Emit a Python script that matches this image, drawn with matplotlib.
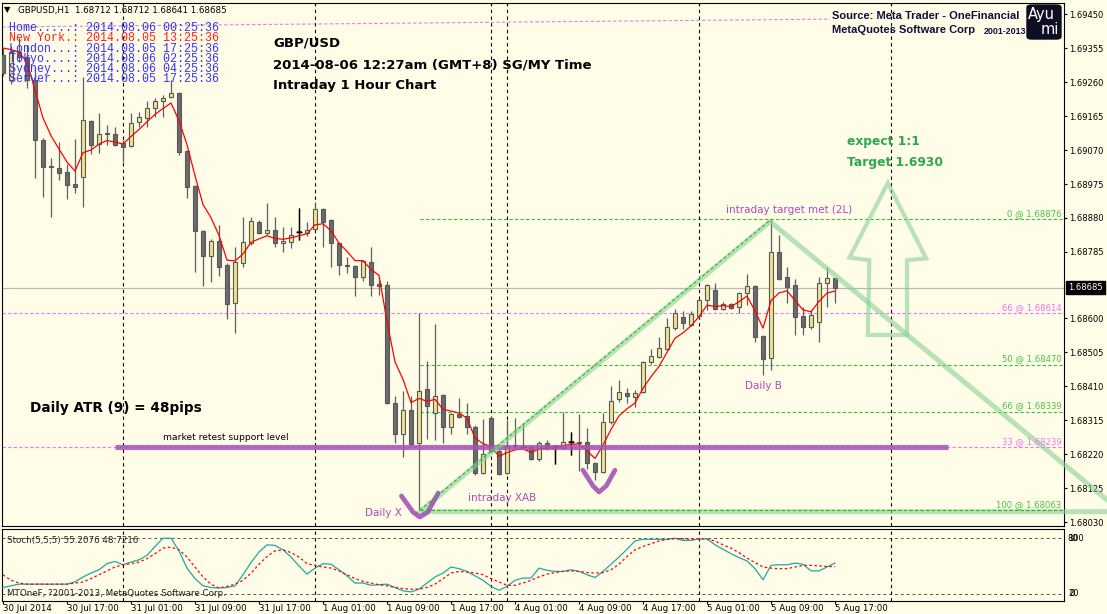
import numpy as np
import matplotlib
matplotlib.use("Agg")
import matplotlib.pyplot as plt
from matplotlib.patches import FancyBboxPatch, Polygon
import matplotlib.transforms as mtransforms

# ---------------- data ----------------
bar_open = [1.69335, 1.69266, 1.69344, 1.69330, 1.69266, 1.69098, 1.69025, 1.69020, 1.69008, 1.68975,
            1.68994, 1.69151, 1.69087, 1.69117, 1.69115, 1.69089, 1.69081, 1.69148, 1.69159, 1.69187,
            1.69207, 1.69218, 1.69229, 1.69067, 1.68969, 1.68844, 1.68774, 1.68816, 1.68748, 1.68642,
            1.68754, 1.68810, 1.68869, 1.68838, 1.68846, 1.68810, 1.68813, 1.68841, 1.68838, 1.68849,
            1.68905, 1.68874, 1.68810, 1.68748, 1.68746, 1.68715, 1.68757, 1.68695, 1.68693, 1.68363,
            1.68276, 1.68343, 1.68251, 1.68402, 1.68335, 1.68385, 1.68296, 1.68332, 1.68326, 1.68296,
            1.68167, 1.68321, 1.68229, 1.68167, 1.68243, 1.68243, 1.68240, 1.68206, 1.68251, 1.68240,
            1.68237, 1.68254, 1.68254, 1.68254, 1.68195, 1.68170, 1.68310, 1.68374, 1.68391, 1.68380,
            1.68394, 1.68477, 1.68491, 1.68514, 1.68572, 1.68603, 1.68581, 1.68606, 1.68651, 1.68679,
            1.68626, 1.68639, 1.68631, 1.68670, 1.68690, 1.68550, 1.68489, 1.68785, 1.68715, 1.68693,
            1.68606, 1.68575, 1.68589, 1.68698, 1.68712]
bar_high = [1.69355, 1.69361, 1.69383, 1.69363, 1.69299, 1.69103, 1.69047, 1.69092, 1.69031, 1.69101,
            1.69274, 1.69154, 1.69173, 1.69140, 1.69134, 1.69098, 1.69173, 1.69176, 1.69207, 1.69215,
            1.69224, 1.69266, 1.69232, 1.69070, 1.68972, 1.68846, 1.68821, 1.68860, 1.68754, 1.68799,
            1.68883, 1.68883, 1.68874, 1.68922, 1.68883, 1.68855, 1.68855, 1.68908, 1.68869, 1.68925,
            1.68908, 1.68877, 1.68813, 1.68771, 1.68748, 1.68762, 1.68799, 1.68707, 1.68704, 1.68382,
            1.68396, 1.68382, 1.68614, 1.68480, 1.68584, 1.68388, 1.68335, 1.68377, 1.68363, 1.68301,
            1.68318, 1.68324, 1.68243, 1.68315, 1.68321, 1.68307, 1.68243, 1.68257, 1.68259, 1.68245,
            1.68338, 1.68282, 1.68332, 1.68293, 1.68198, 1.68335, 1.68410, 1.68427, 1.68405, 1.68399,
            1.68480, 1.68514, 1.68547, 1.68600, 1.68626, 1.68620, 1.68620, 1.68653, 1.68695, 1.68698,
            1.68645, 1.68642, 1.68673, 1.68723, 1.68693, 1.68553, 1.68876, 1.68832, 1.68743, 1.68709,
            1.68631, 1.68623, 1.68715, 1.68743, 1.68712]
bar_low = [1.69277, 1.69254, 1.69316, 1.69243, 1.68992, 1.68938, 1.68883, 1.68986, 1.68933, 1.68950,
           1.68911, 1.69059, 1.69061, 1.69084, 1.69081, 1.69036, 1.69078, 1.69134, 1.69134, 1.69162,
           1.69162, 1.69215, 1.69056, 1.68936, 1.68729, 1.68690, 1.68701, 1.68718, 1.68598, 1.68558,
           1.68743, 1.68804, 1.68835, 1.68832, 1.68799, 1.68785, 1.68796, 1.68818, 1.68830, 1.68846,
           1.68799, 1.68743, 1.68721, 1.68726, 1.68662, 1.68704, 1.68662, 1.68665, 1.68360, 1.68251,
           1.68212, 1.68240, 1.68063, 1.68262, 1.68259, 1.68251, 1.68276, 1.68321, 1.68276, 1.68162,
           1.68164, 1.68226, 1.68162, 1.68164, 1.68237, 1.68234, 1.68203, 1.68201, 1.68231, 1.68192,
           1.68234, 1.68217, 1.68173, 1.68178, 1.68148, 1.68167, 1.68304, 1.68366, 1.68363, 1.68352,
           1.68391, 1.68472, 1.68489, 1.68511, 1.68567, 1.68570, 1.68578, 1.68600, 1.68623, 1.68623,
           1.68623, 1.68626, 1.68614, 1.68637, 1.68533, 1.68441, 1.68455, 1.68707, 1.68642, 1.68553,
           1.68553, 1.68570, 1.68533, 1.68631, 1.68641]
bar_close = [1.69285, 1.69344, 1.69330, 1.69266, 1.69098, 1.69022, 1.69022, 1.69006, 1.68972, 1.68966,
             1.69154, 1.69084, 1.69115, 1.69115, 1.69084, 1.69078, 1.69145, 1.69162, 1.69187, 1.69207,
             1.69215, 1.69229, 1.69064, 1.68966, 1.68844, 1.68774, 1.68816, 1.68743, 1.68639, 1.68757,
             1.68813, 1.68871, 1.68838, 1.68846, 1.68810, 1.68816, 1.68832, 1.68841, 1.68846, 1.68905,
             1.68869, 1.68810, 1.68748, 1.68746, 1.68715, 1.68760, 1.68693, 1.68690, 1.68363, 1.68276,
             1.68343, 1.68248, 1.68396, 1.68354, 1.68382, 1.68296, 1.68332, 1.68324, 1.68296, 1.68167,
             1.68220, 1.68229, 1.68164, 1.68243, 1.68245, 1.68240, 1.68206, 1.68251, 1.68240, 1.68240,
             1.68254, 1.68254, 1.68251, 1.68195, 1.68170, 1.68310, 1.68368, 1.68394, 1.68382, 1.68391,
             1.68477, 1.68494, 1.68516, 1.68575, 1.68614, 1.68586, 1.68612, 1.68651, 1.68693, 1.68626,
             1.68639, 1.68628, 1.68670, 1.68690, 1.68547, 1.68486, 1.68785, 1.68709, 1.68687, 1.68603,
             1.68575, 1.68609, 1.68698, 1.68712, 1.68685]

stoch_main = [11, 14, 17, 17, 17, 17, 17, 17, 17, 21,
              30, 37, 43, 54, 58, 52, 57, 61, 69, 85,
              100, 100, 77, 46, 27, 14, 11, 10, 11, 14,
              34, 56, 75, 88, 87, 79, 66, 50, 35, 46,
              54, 53, 43, 32, 19, 19, 15, 16, 17, 11,
              5, 3, 8, 19, 30, 37, 48, 45, 40, 32,
              24, 13, 6, 13, 24, 28, 28, 46, 42, 40,
              40, 43, 40, 34, 29, 40, 53, 66, 80, 95,
              98, 98, 98, 98, 100, 96, 96, 99, 99, 88,
              80, 72, 65, 59, 45, 25, 51, 52, 52, 55,
              53, 41, 41, 48, 55.2]
stoch_signal = [34, 24, 19, 17, 17, 17, 17, 17, 17, 19,
                21, 27, 34, 41, 48, 52, 54, 57, 63, 72,
                82, 84, 79, 66, 48, 30, 17, 10, 13, 17,
                24, 37, 53, 67, 77, 79, 74, 66, 54, 51,
                48, 46, 41, 34, 27, 22, 19, 16, 14, 11,
                9, 8, 8, 11, 17, 27, 37, 40, 39, 37,
                34, 27, 21, 15, 15, 19, 24, 30, 35, 38,
                40, 41, 40, 38, 37, 38, 43, 53, 67, 79,
                85, 90, 95, 98, 99, 99, 98, 99, 98, 95,
                88, 82, 74, 64, 56, 48, 46, 45, 45, 48,
                51, 51, 50, 49, 48.7]

ma_start = 1.69355          # value of the red moving average at the first visible bar
ma_alpha = 0.36             # EMA smoothing of the red moving average

time_labels = ["30 Jul 2014", "30 Jul 17:00", "31 Jul 01:00", "31 Jul 09:00", "31 Jul 17:00",
               "1 Aug 01:00", "1 Aug 09:00", "1 Aug 17:00", "4 Aug 01:00", "4 Aug 09:00",
               "4 Aug 17:00", "5 Aug 01:00", "5 Aug 09:00", "5 Aug 17:00"]
price_ticks = [1.69450, 1.69355, 1.69260, 1.69165, 1.69070, 1.68975, 1.68880, 1.68785,
               1.68600, 1.68505, 1.68410, 1.68315, 1.68220, 1.68125, 1.68030]
separator_bars = [15, 39, 61, 63, 87, 111]
current_price = 1.68685

fib_green_prices = [1.68876, 1.68470, 1.68339, 1.68063]
fib_green_labels = ["0 @ 1.68876", "50 @ 1.68470", "66 @ 1.68339", "100 @ 1.68063"]
fib_pink_prices = [1.68614, 1.68239]
fib_pink_labels = ["66 @ 1.68614", "33 @ 1.68239"]
support_level = 1.68240

clock_lines = ["Home.....: 2014.08.06 00:25:36", "New York.: 2014.08.05 13:25:36",
               "London...: 2014.08.05 17:25:36", "Tokyo....: 2014.08.06 02:25:36",
               "Sydney...: 2014.08.06 04:25:36", "Server...: 2014.08.05 17:25:36"]

# chart objects (bar index, price)
triangle_bars = [138.0, 52.1, 95.9, 138.0]
triangle_prices = [1.68059, 1.68059, 1.68870, 1.68092]
arrow_bars = [110.6, 105.8, 108.3, 108.1, 113.0, 113.0, 115.4]
arrow_prices = [1.68978, 1.68769, 1.68762, 1.68553, 1.68553, 1.68762, 1.68767]
v1_bars = [49.8, 51.25, 52.1, 53.1, 54.4]
v1_prices = [1.68103, 1.68058, 1.68044, 1.68058, 1.68111]
v2_bars = [72.5, 73.75, 74.5, 75.4, 76.5]
v2_prices = [1.68175, 1.68131, 1.68114, 1.68131, 1.68175]

# ---------------- figure ----------------
W, H = 1107, 614
BG = '#fffce8'
fig = plt.figure(figsize=(W / 100, H / 100), dpi=100, facecolor=BG)


def fx(x):
    return x / W


def fy(y):
    return 1 - y / H


ax = fig.add_axes([fx(2), fy(526), fx(1064) - fx(2), fy(3) - fy(526)], facecolor=BG)
axs = fig.add_axes([fx(2), fy(601), fx(1064) - fx(2), fy(529) - fy(601)], facecolor=BG)

o = np.array(bar_open)
hi = np.array(bar_high)
lo = np.array(bar_low)
c = np.array(bar_close)
n = len(c)
idx = np.arange(n)
bull = c >= o

XL = (-0.125, 132.625)
ax.set_xlim(*XL)
ax.set_ylim(1.68019, 1.69481)

# fib lines
ax.hlines(fib_green_prices, 52.1, XL[1], colors='#33c233', linestyles=(0, (3, 2)), lw=0.8, zorder=2)
ax.hlines(fib_pink_prices, XL[0], XL[1], colors='#ee77ee', linestyles=(0, (3, 2)), lw=0.8, zorder=2)
for p, t in zip(fib_green_prices, fib_green_labels):
    ax.text(132.3, p + 0.00003, t, color='#44c444', fontsize=6.1, ha='right', va='bottom', zorder=7)
for p, t in zip(fib_pink_prices, fib_pink_labels):
    ax.text(132.3, p + 0.00003, t, color='#ee77ee', fontsize=6.1, ha='right', va='bottom', zorder=7)

# current price line
ax.axhline(current_price, color='#b8b8b8', lw=0.9, zorder=2)

# separators
for sb in separator_bars:
    ax.axvline(sb, color='black', lw=0.8, ls=(0, (3, 3)), zorder=2.5)
    axs.axvline(sb, color='black', lw=0.8, ls=(0, (3, 3)), zorder=2.5)

# candles
ax.vlines(idx, lo, hi, color='#5e5e5e', lw=0.9, zorder=3)
heights = np.maximum(np.abs(c - o), 0.000015)
body_colors = np.where(bull, '#efe38c', '#6a6a6a')
ax.bar(idx, heights, bottom=np.minimum(o, c), width=0.62, color=body_colors,
       edgecolor='#585858', linewidth=0.8, zorder=4)
doji = np.abs(c - o) < 0.000005
ax.hlines(c[doji], idx[doji] - 0.35, idx[doji] + 0.35, color='black', lw=1.0, zorder=4.5)
ax.vlines(idx[doji], lo[doji], hi[doji], color='black', lw=1.0, zorder=4.5)

# red moving average
ma = np.empty(n)
ma[0] = ma_start
for i in range(1, n):
    ma[i] = ma[i - 1] + ma_alpha * (c[i] - ma[i - 1])
ax.plot(idx, ma, color='red', lw=0.9, zorder=5)

# support level
ax.plot([14, 118.1], [support_level, support_level], color='#a653b3', lw=3.7, alpha=0.85,
        solid_capstyle='butt', zorder=6)

# green triangle, fib diagonal and arrow
GREEN = '#86d293'
ax.plot(triangle_bars, triangle_prices, color=GREEN, lw=3.6, alpha=0.6, zorder=6,
        clip_on=False, solid_joinstyle='miter')
ax.plot([52.1, 96], [1.68063, 1.68876], color='#2fb52f', lw=0.8, ls=(0, (3, 2)), zorder=6.5)
ax.plot([52.1, 132.6], [1.68063, 1.68063], color='#2fb52f', lw=0.8, ls=(0, (3, 2)), zorder=6.5)
arrow = Polygon(list(zip(arrow_bars, arrow_prices)), closed=True, fill=False,
                edgecolor=GREEN, lw=3.0, alpha=0.6, zorder=6, joinstyle='miter')
ax.add_patch(arrow)

# purple V marks
for vb, vp in ((v1_bars, v1_prices), (v2_bars, v2_prices)):
    ax.plot(vb, vp, color='#a653b3', lw=3.4, alpha=0.9, solid_capstyle='round',
            solid_joinstyle='round', zorder=6, clip_on=False)

# axes styling
ax.set_xticks([])
ax.yaxis.tick_right()
ax.set_yticks(price_ticks)
ax.set_yticklabels(['%.5f' % p for p in price_ticks])
ax.tick_params(axis='y', length=2.5, width=0.8, pad=1.5, labelsize=6, colors='black')
for sp in ax.spines.values():
    sp.set_color('black')
    sp.set_linewidth(0.8)

# current price label box
trans = mtransforms.blended_transform_factory(ax.transAxes, ax.transData)
ax.text(1.0 + 4 / 1062, current_price, '%.5f' % current_price, transform=trans, color='white',
        fontsize=6, ha='left', va='center', clip_on=False, zorder=10,
        bbox=dict(facecolor='black', edgecolor='black', boxstyle='square,pad=0.25'))

# stochastic
axs.set_xlim(*XL)
axs.set_ylim(-13.4, 116.6)
axs.axhline(100, color='#555555', lw=0.7, ls=(0, (3, 3)))
axs.axhline(0, color='#555555', lw=0.7, ls=(0, (3, 3)))
axs.plot(idx, stoch_main, color='#1fa9a3', lw=0.9, zorder=3)
axs.plot(idx, stoch_signal, color='red', lw=0.9, ls=(0, (2, 2)), zorder=3)
axs.set_yticks([])
axs.set_xticks(idx[::8])
axs.set_xticklabels(time_labels)
axs.tick_params(axis='x', length=2, width=0.8, pad=0.3, labelsize=6.2, colors='black')
for lbl in axs.get_xticklabels():
    lbl.set_horizontalalignment('left')
for sp in axs.spines.values():
    sp.set_color('black')
    sp.set_linewidth(0.8)
trs = mtransforms.blended_transform_factory(axs.transAxes, axs.transData)
axs.text(1.0 + 4 / 1062, 100, "100", transform=trs, fontsize=6, ha='left', va='center', clip_on=False)
axs.text(1.0 + 3 / 1062, 100, "80", transform=trs, fontsize=6, ha='left', va='center', clip_on=False)
axs.text(1.0 + 4 / 1062, 0, "20", transform=trs, fontsize=6, ha='left', va='center', clip_on=False)
axs.text(1.0 + 5 / 1062, 0, "0", transform=trs, fontsize=6, ha='left', va='center', clip_on=False)
fig.text(fx(7), fy(540), "Stoch(5,5,5) 55.2076 48.7216", fontsize=6.3, color='#222222', va='center')
fig.text(fx(7), fy(594), "MTOneF, ?2001-2013, MetaQuotes Software Corp.", fontsize=6.3,
         color='#222222', va='center')

# ---------------- texts ----------------
fig.text(fx(4), fy(10), "\u25BC", fontsize=6, va='center', color='black')
fig.text(fx(18), fy(10), "GBPUSD,H1  1.68712 1.68712 1.68641 1.68685", fontsize=6.3,
         va='center', color='black')
ax.plot([XL[0], 103.4], [1.69414, 1.69436], color='#e080e0', lw=0.8, ls=(0, (3, 2)), zorder=2)

clock_y = [27.7, 38.3, 48.7, 59.0, 69.2, 79.4]
for line, yy in zip(clock_lines, clock_y):
    col = '#ff2020' if line.startswith('New York') else '#3535ff'
    fig.text(fx(9), fy(yy), line, family='Liberation Mono', fontsize=8.4, color=col, va='center')

for txt, yy in (("GBP/USD", 43), ("2014-08-06 12:27am (GMT+8) SG/MY Time", 64.5),
                ("Intraday 1 Hour Chart", 86)):
    fig.text(fx(273), fy(yy), txt, fontsize=9.5, fontweight='bold', va='center', color='black')

fig.text(fx(832), fy(16), "Source: Meta Trader - OneFinancial", family='Liberation Sans',
         fontsize=8.0, fontweight='bold', va='center', color='#10103a')
fig.text(fx(832), fy(30), "MetaQuotes Software Corp", family='Liberation Sans',
         fontsize=8.0, fontweight='bold', va='center', color='#10103a')
fig.text(fx(984), fy(31), "2001-2013", family='Liberation Sans', fontsize=6.4,
         fontweight='bold', va='center', color='#10103a')
logo = FancyBboxPatch((fx(1027), fy(39)), fx(34), 34 / H, transform=fig.transFigure,
                      boxstyle='round,pad=0,rounding_size=0.004', facecolor='#0e0e22',
                      edgecolor='#0e0e22', zorder=5)
fig.patches.append(logo)
fig.text(fx(1028), fy(15), "Ayu", fontsize=10.5, color='white', va='center', zorder=6)
fig.text(fx(1041), fy(29), "mi", fontsize=10.5, color='white', va='center', zorder=6)

fig.text(fx(847), fy(141), "expect 1:1", fontsize=8.8, fontweight='bold', color='#2ea84e', va='center')
fig.text(fx(847), fy(162.7), "Target 1.6930", fontsize=8.8, fontweight='bold', color='#2ea84e',
         va='center')

PURPLE = '#ad4cb8'
fig.text(fx(726), fy(210), "intraday target met (2L)", fontsize=7.5, color=PURPLE, va='center')
fig.text(fx(365), fy(513), "Daily X", fontsize=7.5, color=PURPLE, va='center')
fig.text(fx(468), fy(498), "intraday XAB", fontsize=7.5, color=PURPLE, va='center')
fig.text(fx(745), fy(386), "Daily B", fontsize=7.5, color=PURPLE, va='center')

fig.text(fx(30), fy(408), "Daily ATR (9) = 48pips", fontsize=9.8, fontweight='bold', color='black',
         va='center')
fig.text(fx(163), fy(438), "market retest support level", fontsize=6.6, color='black', va='center')

fig.savefig("out.png", dpi=100, facecolor=BG)
